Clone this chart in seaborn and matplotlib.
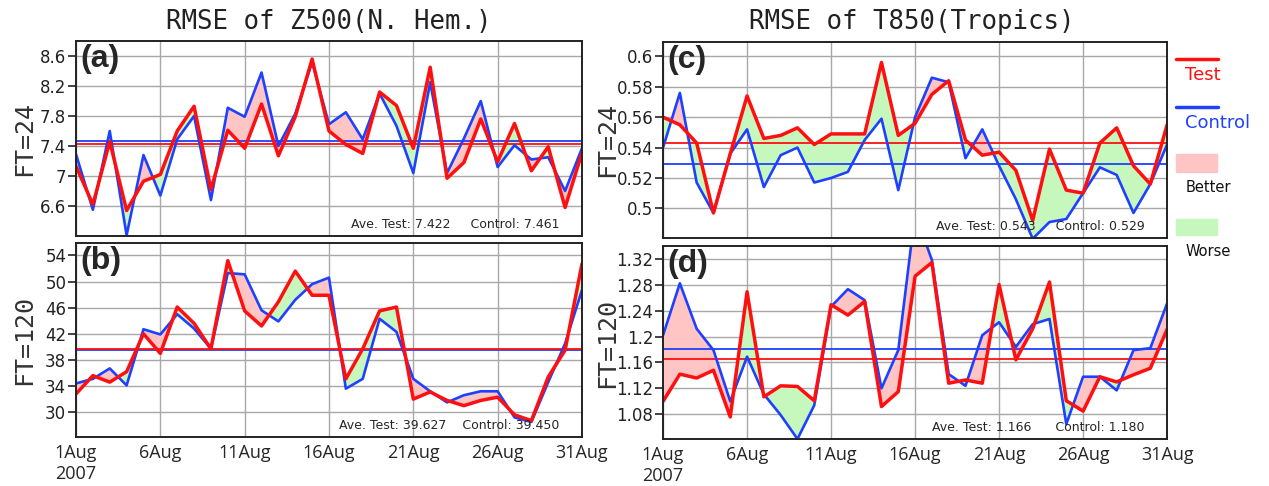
import numpy as np
import pandas as pd
import matplotlib
matplotlib.use("Agg")
import matplotlib.pyplot as plt
import seaborn as sns
from matplotlib.lines import Line2D
from matplotlib.patches import Rectangle
from matplotlib.ticker import FuncFormatter

# 数据: 2007年8月逐日 RMSE
days = np.arange(1, 32)
tick_days = [1, 6, 11, 16, 21, 26, 31]
tick_labels = ['1Aug\n2007', '6Aug', '11Aug', '16Aug', '21Aug', '26Aug', '31Aug']

z500_24_test = [7.13, 6.62, 7.46, 6.54, 6.93, 7.02, 7.60, 7.93, 6.82, 7.61, 7.37, 7.96, 7.27, 7.79, 8.56, 7.60,
                7.42, 7.30, 8.12, 7.94, 7.37, 8.45, 6.97, 7.18, 7.76, 7.19, 7.70, 7.07, 7.39, 6.58, 7.31]
z500_24_ctrl = [7.29, 6.55, 7.60, 6.21, 7.28, 6.74, 7.49, 7.80, 6.68, 7.91, 7.79, 8.38, 7.40, 7.83, 8.52, 7.69,
                7.85, 7.49, 8.10, 7.67, 7.04, 8.25, 7.04, 7.50, 8.00, 7.12, 7.41, 7.22, 7.25, 6.80, 7.37]
z500_120_test = [32.8, 35.6, 34.6, 36.2, 42.0, 39.0, 46.1, 43.6, 39.7, 53.2, 45.5, 43.2, 46.9, 51.6, 47.9, 47.9,
                 35.1, 39.7, 45.5, 46.1, 32.0, 33.1, 31.8, 31.0, 31.8, 32.3, 29.6, 28.7, 35.4, 39.5, 52.7]
z500_120_ctrl = [34.4, 35.1, 36.7, 34.1, 42.7, 41.9, 45.0, 42.8, 39.7, 51.3, 51.1, 45.6, 43.9, 47.2, 49.6, 50.6,
                 33.6, 35.1, 44.3, 42.3, 35.1, 33.2, 31.5, 32.6, 33.2, 33.2, 29.2, 28.5, 34.6, 40.5, 48.7]
t850_24_test = [0.560, 0.555, 0.543, 0.497, 0.536, 0.574, 0.546, 0.548, 0.553, 0.542, 0.549, 0.549, 0.549, 0.596,
                0.548, 0.556, 0.575, 0.584, 0.545, 0.535, 0.537, 0.525, 0.492, 0.539, 0.512, 0.510, 0.543, 0.553,
                0.528, 0.516, 0.555]
t850_24_ctrl = [0.540, 0.576, 0.517, 0.497, 0.536, 0.552, 0.514, 0.535, 0.540, 0.517, 0.520, 0.524, 0.545, 0.559,
                0.512, 0.560, 0.586, 0.583, 0.533, 0.552, 0.528, 0.506, 0.480, 0.491, 0.493, 0.510, 0.527, 0.522,
                0.497, 0.516, 0.542]
t850_120_test = [1.100, 1.142, 1.136, 1.148, 1.076, 1.269, 1.107, 1.124, 1.123, 1.101, 1.249, 1.233, 1.254, 1.092,
                 1.115, 1.293, 1.314, 1.128, 1.133, 1.128, 1.280, 1.164, 1.212, 1.284, 1.101, 1.085, 1.138, 1.130,
                 1.141, 1.151, 1.211]
t850_120_ctrl = [1.202, 1.282, 1.212, 1.179, 1.100, 1.169, 1.111, 1.079, 1.042, 1.094, 1.246, 1.273, 1.256, 1.120,
                 1.179, 1.390, 1.318, 1.142, 1.124, 1.202, 1.222, 1.184, 1.219, 1.227, 1.065, 1.138, 1.138, 1.117,
                 1.179, 1.182, 1.251]

# 平均值 (图中标注)
ave_test = {'a': '7.422', 'b': '39.627', 'c': '0.543', 'd': '1.166'}
ave_ctrl = {'a': '7.461', 'b': '39.450', 'c': '0.529', 'd': '1.180'}

RED = '#ff1010'
BLUE = '#1e40ff'
PINK = '#ffc4c4'
GREEN = '#c6f7bc'

sns.set_style('white')
plt.rcParams['font.family'] = ['DejaVu Sans']


def draw_panel(ax, tag, test, ctrl, ylim, yticks, ylabel, gap, show_x, label_x):
    test = np.array(test)
    ctrl = np.array(ctrl)
    df = pd.DataFrame({'day': days, 'Test': test, 'Control': ctrl})
    ax.set_axisbelow(True)
    ax.grid(True, color='#a8a8a8', lw=1.0)
    # Better: Test < Control, Worse: Test > Control
    ax.fill_between(days, test, ctrl, where=test <= ctrl, interpolate=True, color=PINK, lw=0)
    ax.fill_between(days, test, ctrl, where=test >= ctrl, interpolate=True, color=GREEN, lw=0)
    ax.axhline(float(ave_ctrl[tag]), color=BLUE, lw=1.3)
    ax.axhline(float(ave_test[tag]), color=RED, lw=1.3)
    sns.lineplot(data=df, x='day', y='Control', color=BLUE, lw=1.9, ax=ax, legend=False)
    sns.lineplot(data=df, x='day', y='Test', color=RED, lw=2.5, ax=ax, legend=False)

    ax.set_xlim(1, 31)
    ax.set_ylim(*ylim)
    ax.set_yticks(yticks)
    ax.yaxis.set_major_formatter(FuncFormatter(lambda v, p: f'{v:.3f}'.rstrip('0').rstrip('.')))
    ax.set_xticks(tick_days)
    if show_x:
        ax.set_xticklabels(tick_labels, fontsize=13, family=['Open Sans', 'DejaVu Sans'])
    else:
        ax.set_xticklabels([])
    ax.tick_params(axis='x', length=0, pad=5)
    ax.tick_params(axis='y', length=6, width=1.2, direction='out', pad=1, labelsize=12,
                   colors='#222222', left=True)
    for s in ax.spines.values():
        s.set_color('#222222')
        s.set_linewidth(1.4)
    ax.set_xlabel('')
    ax.set_ylabel(ylabel, fontsize=18, family='DejaVu Sans Mono', color='#333333')
    ax.yaxis.set_label_coords(label_x, 0.5)
    ax.text(0.008, 0.985, f'({tag})', transform=ax.transAxes, fontsize=23, fontweight='bold',
            family='Liberation Sans', va='top', ha='left')
    ax.text(0.955, 0.025, f'Ave. Test: {ave_test[tag]}{gap}Control: {ave_ctrl[tag]}',
            transform=ax.transAxes, fontsize=9, ha='right', va='bottom')


fig = plt.figure(figsize=(12.69, 4.86), dpi=100)
ax_a = fig.add_axes([0.0599, 0.5144, 0.3987, 0.4012])
ax_b = fig.add_axes([0.0599, 0.1008, 0.3987, 0.3992])
ax_c = fig.add_axes([0.5225, 0.5103, 0.3972, 0.4033])
ax_d = fig.add_axes([0.5225, 0.0967, 0.3972, 0.3971])

draw_panel(ax_a, 'a', z500_24_test, z500_24_ctrl, (6.2, 8.8), [6.6, 7.0, 7.4, 7.8, 8.2, 8.6],
           'FT=24', '     ', False, -0.078)
draw_panel(ax_b, 'b', z500_120_test, z500_120_ctrl, (26.2, 55.9), [30, 34, 38, 42, 46, 50, 54],
           'FT=120', '    ', True, -0.078)
draw_panel(ax_c, 'c', t850_24_test, t850_24_ctrl, (0.4805, 0.6095), [0.5, 0.52, 0.54, 0.56, 0.58, 0.6],
           'FT=24', '     ', False, -0.088)
draw_panel(ax_d, 'd', t850_120_test, t850_120_ctrl, (1.042, 1.3395), [1.08, 1.12, 1.16, 1.2, 1.24, 1.28, 1.32],
           'FT=120', '      ', True, -0.088)

fig.text(0.2593, 0.955, 'RMSE of Z500(N. Hem.)', fontsize=18.5, family='DejaVu Sans Mono',
         ha='center', va='center', color='#222222')
fig.text(0.7187, 0.955, 'RMSE of T850(Tropics)', fontsize=18.5, family='DejaVu Sans Mono',
         ha='center', va='center', color='#222222')

# 右侧图例
fig.add_artist(Line2D([0.9267, 0.9598], [0.8786, 0.8786], color=RED, lw=2.5, transform=fig.transFigure))
fig.text(0.934, 0.8457, 'Test', color=RED, fontsize=13, va='center', ha='left')
fig.add_artist(Line2D([0.9267, 0.9598], [0.7805, 0.7805], color=BLUE, lw=2.5, transform=fig.transFigure))
fig.text(0.934, 0.7469, 'Control', color=BLUE, fontsize=13, va='center', ha='left')
fig.add_artist(Rectangle((0.9267, 0.6461), 0.0323, 0.037, color=PINK, transform=fig.transFigure))
fig.text(0.934, 0.6132, 'Better', color='#111111', fontsize=10.5, va='center', ha='left')
fig.add_artist(Rectangle((0.9267, 0.5165), 0.0323, 0.033, color=GREEN, transform=fig.transFigure))
fig.text(0.934, 0.4815, 'Worse', color='#111111', fontsize=10.5, va='center', ha='left')

fig.savefig('out.png', dpi=100)
